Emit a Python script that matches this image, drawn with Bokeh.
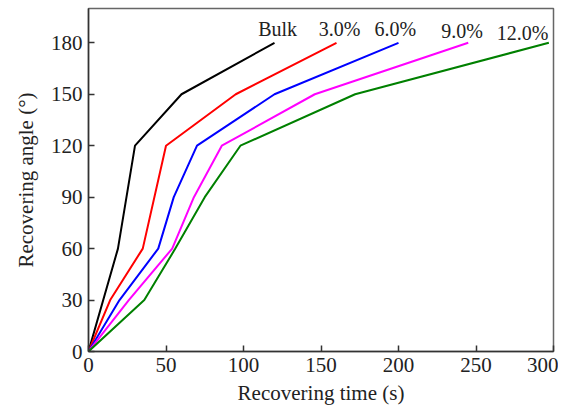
from bokeh.plotting import figure
from bokeh.models import Range1d, FixedTicker, ColumnDataSource
from bokeh.core.properties import value
from bokeh.embed import file_html
from bokeh.resources import INLINE

# data
time_bulk = [0, 19, 30, 60, 120]
angle_bulk = [0, 60, 120, 150, 180]
time_3 = [0, 14, 35, 50, 95, 160]
angle_3 = [0, 30, 60, 120, 150, 180]
time_6 = [0, 20, 45, 55, 70, 120, 200]
angle_6 = [0, 30, 60, 90, 120, 150, 180]
time_9 = [0, 26, 54, 68, 86, 146, 245]
angle_9 = [0, 30, 60, 90, 120, 150, 180]
time_12 = [0, 36, 56, 75, 98, 172, 297]
angle_12 = [0, 30, 60, 90, 120, 150, 180]

series_names = ["Bulk", "3.0%", "6.0%", "9.0%", "12.0%"]
series_colors = ["black", "#ff0000", "#0000ff", "#ff00ff", "#008000"]
label_x = [122, 162, 198, 241, 280]
label_y = [188, 188, 188, 186.7, 186]

x_ticks = [0, 50, 100, 150, 200, 250, 300]
y_ticks = [0, 30, 60, 90, 120, 150, 180]

FONT = "Liberation Serif"

p = figure(width=558, height=408, output_backend="svg", toolbar_location=None,
           x_range=Range1d(0, 300), y_range=Range1d(0, 200),
           min_border_left=88, min_border_right=5, min_border_top=8, min_border_bottom=57)

p.background_fill_color = "white"
p.border_fill_color = "white"
p.outline_line_color = "#666666"
p.outline_line_width = 1.5
p.xgrid.visible = False
p.ygrid.visible = False

xs = [time_bulk, time_3, time_6, time_9, time_12]
ys = [angle_bulk, angle_3, angle_6, angle_9, angle_12]
for x, y, c in zip(xs, ys, series_colors):
    p.line(x, y, line_color=c, line_width=2)

src = ColumnDataSource(dict(x=label_x, y=label_y, t=series_names))
p.text(x="x", y="y", text="t", source=src, text_font=value(FONT),
       text_font_size="20px", text_align="center", text_baseline="middle",
       text_color="#222222")

for ax in (p.xaxis[0], p.yaxis[0]):
    ax.axis_line_color = "#333333"
    ax.axis_line_width = 1.5
    ax.major_tick_in = 6
    ax.major_tick_out = 0
    ax.major_tick_line_color = "#333333"
    ax.major_tick_line_width = 1.5
    ax.minor_tick_line_color = None
    ax.major_label_text_font = FONT
    ax.major_label_text_font_size = "21px"
    ax.major_label_text_color = "#222222"
    ax.axis_label_text_font = FONT
    ax.axis_label_text_font_size = "21px"
    ax.axis_label_text_font_style = "normal"
    ax.axis_label_text_color = "#222222"

p.xaxis[0].ticker = FixedTicker(ticks=x_ticks)
p.yaxis[0].ticker = FixedTicker(ticks=y_ticks)
p.xaxis[0].axis_label = "Recovering time (s)"
p.yaxis[0].axis_label = "Recovering angle (°)"
p.xaxis[0].major_label_standoff = 6
p.yaxis[0].major_label_standoff = 6
p.xaxis[0].axis_label_standoff = 6
p.yaxis[0].axis_label_standoff = 10

open("out.html", "w").write(file_html(p, INLINE))
